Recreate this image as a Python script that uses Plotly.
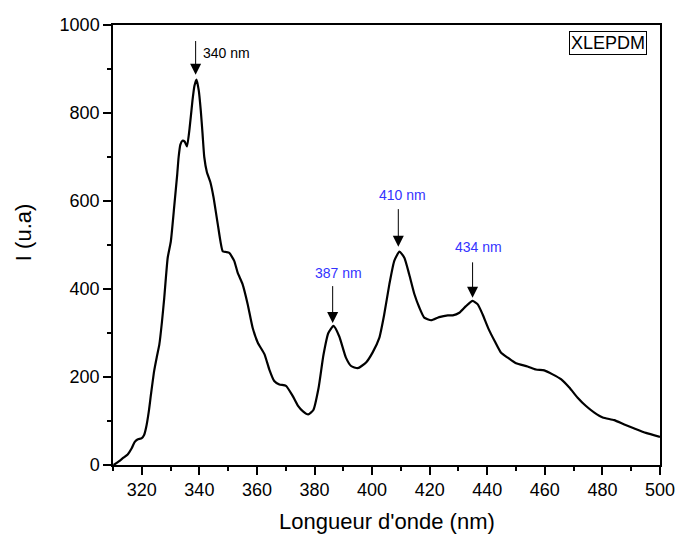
import plotly.graph_objects as go

# Emission spectrum XLEPDM
wavelength = [310.2, 312.0, 313.5, 315.1, 316.5, 317.5, 318.5, 320.0, 320.8, 321.5,
              322.4, 323.2, 324.3, 325.2, 326.1, 327.0, 327.8, 329.0, 330.1, 331.3,
              332.3, 332.8, 333.4, 334.1, 334.9, 335.7, 336.6, 337.6, 338.3, 339.0,
              339.8, 340.5, 341.1, 341.7, 342.6, 343.8, 344.9, 346.4, 348.1, 349.2,
              350.4, 352.1, 353.3, 355.0, 356.8, 358.5, 360.3, 362.6, 364.3, 366.0,
              367.8, 370.1, 372.4, 374.2, 376.0, 377.8, 379.6, 381.4, 383.1, 384.8,
              386.6, 388.6, 390.9, 392.7, 395.0, 397.9, 400.2, 402.5, 404.2, 406.0,
              407.7, 409.5, 411.2, 412.9, 414.7, 416.4, 418.1, 420.5, 423.3, 426.3,
              428.0, 430.3, 432.6, 434.9, 436.7, 438.4, 440.4, 442.7, 444.8, 447.1,
              450.0, 454.0, 456.9, 459.8, 462.7, 465.6, 468.5, 471.4, 474.3, 477.2,
              480.1, 484.1, 487.6, 491.1, 495.1, 500.0]
intensity = [0, 8, 16, 24, 38, 52, 58, 61, 68, 85,
             120, 161, 214, 245, 274, 325, 380, 471, 509, 590,
             660, 700, 728, 737, 735, 724, 765, 828, 862, 876,
             851, 805, 753, 700, 666, 643, 609, 547, 486, 484,
             482, 464, 437, 411, 365, 312, 278, 252, 217, 191,
             183, 180, 157, 135, 122, 115, 125, 175, 250, 300,
             316, 292, 244, 225, 220, 233, 256, 289, 342, 411,
             464, 485, 471, 433, 388, 358, 335, 329, 336, 340,
             340, 346, 361, 373, 365, 342, 310, 280, 255, 244,
             231, 224, 217, 215, 206, 195, 176, 153, 134, 119,
             108, 102, 92, 83, 73, 64]

# peak markers: label, arrow x, arrow tip y, arrow tail y, label x, label y, colour
peak_labels = ["340 nm", "387 nm", "410 nm", "434 nm"]
peak_x = [338.7, 386.3, 409.1, 434.9]
peak_tip = [887, 323, 496, 380]
peak_tail = [967, 410, 585, 464]
label_x = [340.5, 388.2, 410.4, 436.8]
label_y = [937, 436, 614, 495]
label_colors = ["black", "#3333FF", "#3333FF", "#3333FF"]
label_anchor = ["left", "center", "center", "center"]

sample_name = "XLEPDM"
x_title = "Longueur d'onde (nm)"
y_title = "I (u.a)"

FONT = "Liberation Sans, Arial, sans-serif"

fig = go.Figure()
fig.add_trace(go.Scatter(
    x=wavelength, y=intensity, mode="lines",
    line=dict(color="black", width=2.2, shape="spline", smoothing=0.5),
    showlegend=False, hoverinfo="skip"))

annotations = []
for lab, px, tip, tail, lx, ly, col, anc in zip(peak_labels, peak_x, peak_tip, peak_tail,
                                                label_x, label_y, label_colors, label_anchor):
    annotations.append(dict(
        x=px, y=tip, ax=px, ay=tail, xref="x", yref="y", axref="x", ayref="y",
        text="", showarrow=True, arrowhead=2, arrowsize=2.2, arrowwidth=1,
        arrowcolor="black"))
    annotations.append(dict(
        x=lx, y=ly, xref="x", yref="y", text=lab, showarrow=False,
        xanchor=anc, yanchor="middle", font=dict(family=FONT, size=14, color=col)))

annotations.append(dict(
    x=0.905, y=0.960, xref="paper", yref="paper", text=sample_name, showarrow=False,
    xanchor="center", yanchor="middle", bordercolor="black", borderwidth=1,
    borderpad=1, bgcolor="white", font=dict(family=FONT, size=18, color="black")))
annotations.append(dict(
    x=0.5, y=-0.128, xref="paper", yref="paper", text=x_title, showarrow=False,
    xanchor="center", yanchor="middle", font=dict(family=FONT, size=22, color="black")))
annotations.append(dict(
    x=-0.1645, y=0.527, xref="paper", yref="paper", text=y_title, showarrow=False,
    textangle=-90, xanchor="center", yanchor="middle",
    font=dict(family=FONT, size=22, color="black")))

fig.update_layout(
    width=675, height=534,
    margin=dict(l=113, r=15, t=25, b=69, autoexpand=False),
    paper_bgcolor="white", plot_bgcolor="white",
    font=dict(family=FONT, size=18, color="black"),
    annotations=annotations,
    xaxis=dict(range=[310, 500], tick0=0, dtick=20, ticks="outside", ticklen=8,
               tickwidth=1.5, tickcolor="black", showline=True, linecolor="black",
               linewidth=1.5, mirror=True, showgrid=False, zeroline=False,
               ticklabeloverflow="allow", automargin=False,
               tickfont=dict(family=FONT, size=18, color="black"),
               minor=dict(dtick=10, ticks="outside", ticklen=4, tickwidth=1.5,
                          tickcolor="black", showgrid=False)),
    yaxis=dict(range=[0, 1000], tick0=0, dtick=200, ticks="outside", ticklen=8,
               tickwidth=1.5, tickcolor="black", showline=True, linecolor="black",
               linewidth=1.5, mirror=True, showgrid=False, zeroline=False,
               ticklabeloverflow="allow", automargin=False,
               tickfont=dict(family=FONT, size=18, color="black"),
               minor=dict(dtick=100, ticks="outside", ticklen=4, tickwidth=1.5,
                          tickcolor="black", showgrid=False)),
)

fig.write_html(
    "out.html",
    config={"displayModeBar": False},
    post_script="document.body.style.margin='0';document.body.style.padding='0';"
                "document.body.style.overflow='hidden';")
